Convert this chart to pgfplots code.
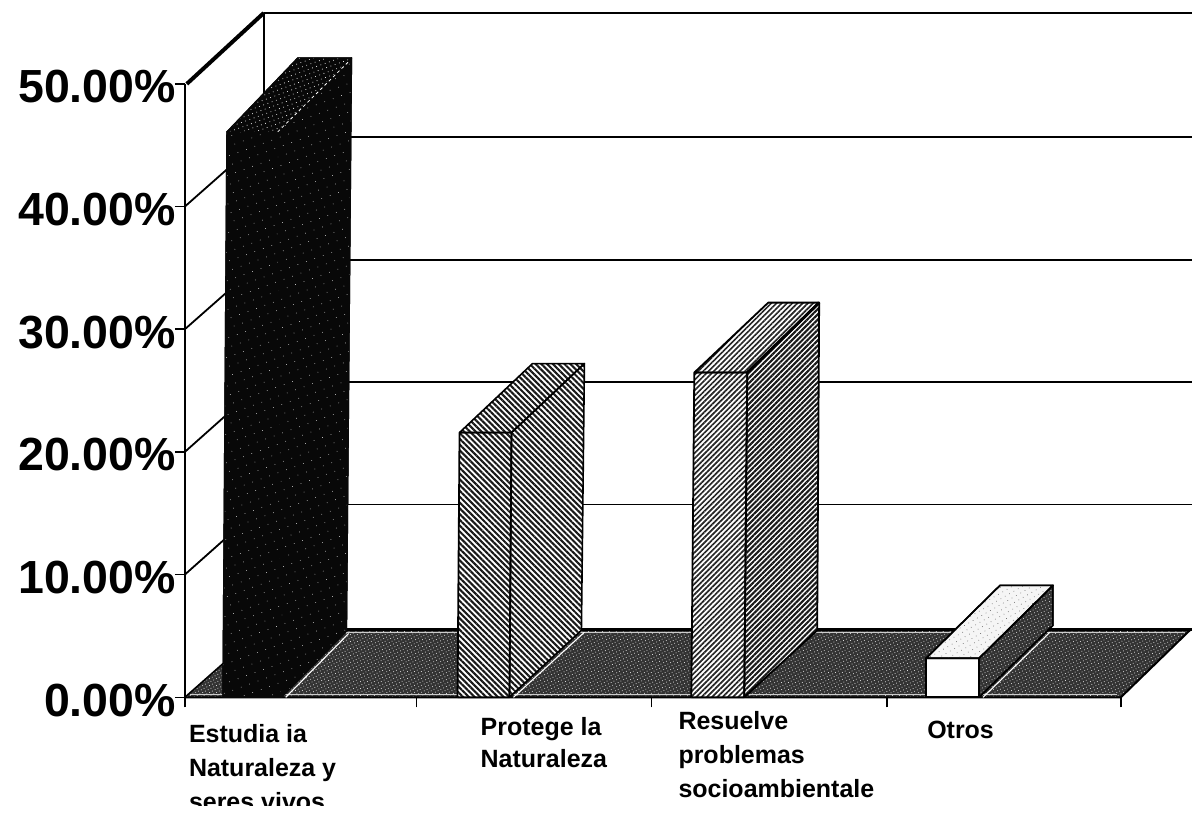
\documentclass[border=0pt]{standalone}
\usepackage{fontspec}
\setmainfont{Liberation Sans}
\usepackage{pgfplots}
\pgfplotsset{compat=1.18}
\usetikzlibrary{patterns,patterns.meta}
\definecolor{floorc}{gray}{0.2}
\definecolor{barone}{gray}{0.03}
\tikzset{
  floorfill/.style={fill=floorc,postaction={pattern={Dots[distance=3.1pt,radius=0.55pt,angle=27]},pattern color=white!85!black}},
  oneface/.style={fill=barone,postaction={pattern={Dots[distance=9pt,radius=0.4pt,angle=20]},pattern color=white}},
  onetop/.style={fill=barone,postaction={pattern={Dots[distance=4.5pt,radius=0.5pt,angle=20]},pattern color=white}},
  hatchA/.style={pattern={Lines[angle=-45,distance=4.1pt,line width=2.1pt]},pattern color=black!90},
  hatchB/.style={pattern={Lines[angle=45,distance=3.7pt,line width=1.7pt]},pattern color=black!85},
  hatchC/.style={pattern={Lines[angle=45,distance=3.7pt,line width=2.1pt]},pattern color=black!90},
  lbl/.style={anchor=base west,inner sep=0pt,font=\fontsize{25}{25}\selectfont\bfseries},
}
\begin{document}
\begin{tikzpicture}[line join=round]
\begin{axis}[
  name=ax, scale only axis, width=1008pt, height=614pt,
  xmin=185, xmax=1193, ymin=0, ymax=50, clip=false,
  axis lines=left, axis line style={-,line width=1.8pt},
  x axis line style={draw=none},
  tick align=outside, major tick length=10pt,
  tick style={black,line width=1.6pt},
  xtick={185,417,652,888,1122}, xticklabels={},
  ytick={0,10,20,30,40,50},
  yticklabel style={font=\fontsize{46.5}{46.5}\selectfont\bfseries,xshift=4.5pt,yshift=-3pt,
    /pgf/number format/assume math mode=true,
    /pgf/number format/fixed,/pgf/number format/zerofill,/pgf/number format/precision=2},
  yticklabel={\pgfmathprintnumber{\tick}\%},
  no markers,
]
% back wall
\addplot[black,line width=2pt] coordinates {(264,5.54)(264,55.78)(1193,55.78)};
\addplot[black,line width=1.8pt] coordinates {(264,45.68)(1193,45.68)};
\addplot[black,line width=1.8pt] coordinates {(264,35.67)(1193,35.67)};
\addplot[black,line width=1.8pt] coordinates {(264,25.73)(1193,25.73)};
\addplot[black,line width=1.8pt] coordinates {(264,15.72)(1193,15.72)};
% side wall
\addplot[black,line width=4pt] coordinates {(187,50)(264,55.78)};
\addplot[black,line width=1.8pt] coordinates {(185,40)(264,45.68)};
\addplot[black,line width=1.8pt] coordinates {(185,30)(264,35.67)};
\addplot[black,line width=1.8pt] coordinates {(185,20)(264,25.73)};
\addplot[black,line width=1.8pt] coordinates {(185,10)(264,15.72)};
% floor
\addplot[floorfill,draw=none] coordinates {(185,0)(1122,0)(1192,5.54)(262,5.54)(185,0)};
\addplot[black,line width=2.4pt] coordinates {(262,5.54)(1193,5.54)};
\addplot[white!80!black,line width=1pt] coordinates {(268,5.28)(1186,5.28)};
\addplot[black,line width=2pt] coordinates {(185,0)(1122,0)(1192,5.54)};
\addplot[white!80!black,line width=1pt] coordinates {(190,0.25)(1118,0.25)};
\addplot[black,line width=1.5pt] coordinates {(185,0)(262,5.54)};
% bar 1
\addplot[oneface,draw=barone,line width=1pt] coordinates {(223,0)(282,0)(278,46.09)(227,46.09)(223,0)};
\addplot[oneface,draw=barone,line width=1pt] coordinates {(282,0)(347,5.4)(352,52.12)(278,46.09)(282,0)};
\addplot[onetop,draw=barone,line width=1pt] coordinates {(227,46.09)(298,52.12)(352,52.12)(278,46.09)(227,46.09)};
\addplot[white,line width=0.8pt,dashed] coordinates {(278,46.09)(350,51.9)};
\addplot[white,line width=1.1pt] coordinates {(286,0)(349,5.2)};
% bar 2
\addplot[fill=white,draw=none] coordinates {(458,0)(509,0)(582,5.46)(585,27.2)(533,27.2)(460,21.58)(458,0)};
\addplot[hatchA,draw=black,line width=1.8pt] coordinates {(458,0)(510,0)(512,21.58)(460,21.58)(458,0)};
\addplot[hatchA,draw=black,line width=1.6pt] coordinates {(510,0)(582,5.46)(585,27.2)(512,21.58)(510,0)};
\addplot[hatchA,draw=black,line width=1.6pt] coordinates {(460,21.58)(533,27.2)(585,27.2)(512,21.58)(460,21.58)};
\addplot[white,line width=1.1pt] coordinates {(514,0)(585,5.3)};
% bar 3
\addplot[fill=white,draw=none] coordinates {(692,0)(745,0)(818,5.46)(820,32.17)(769,32.17)(695,26.47)(692,0)};
\addplot[hatchB,draw=black,line width=1.8pt] coordinates {(692,0)(745,0)(748,26.47)(695,26.47)(692,0)};
\addplot[hatchC,draw=black,line width=1.8pt] coordinates {(745,0)(818,5.46)(820,32.17)(748,26.47)(745,0)};
\addplot[hatchB,draw=black,line width=1.8pt] coordinates {(695,26.47)(769,32.17)(820,32.17)(748,26.47)(695,26.47)};
\addplot[black,line width=3pt] coordinates {(748,26.47)(820,32.17)};
% bar 4
\addplot[fill=white,draw=black,line width=1.8pt] coordinates {(927,0)(980,0)(980,3.18)(927,3.18)(927,0)};
\addplot[floorfill,draw=black,line width=1.5pt] coordinates {(980,0)(1054,5.86)(1054,9.12)(980,3.18)(980,0)};
\addplot[fill=gray!8,draw=black,line width=1.6pt,postaction={pattern={Dots[distance=5pt,radius=0.5pt,angle=30]},pattern color=black!55}] coordinates {(927,3.18)(1001,9.12)(1054,9.12)(980,3.18)(927,3.18)};
\addplot[white,line width=1.1pt] coordinates {(984,0)(1051,5.3)};
% category labels
\node[lbl] at (axis cs:189,-3.66) {Estudia ia};
\node[lbl] at (axis cs:189,-6.43) {Naturaleza y};
\node[lbl] at (axis cs:189,-9.2) {seres vivos};
\node[lbl] at (axis cs:481,-3.09) {Protege la};
\node[lbl] at (axis cs:481,-5.70) {Naturaleza};
\node[lbl] at (axis cs:679,-2.65) {Resuelve};
\node[lbl] at (axis cs:679,-5.37) {problemas};
\node[lbl] at (axis cs:679,-8.14) {socioambientale};
\node[lbl] at (axis cs:928,-3.34) {Otros};
\fill[white] (axis cs:100,-8.876) rectangle (axis cs:600,-9.44);
\end{axis}
\path[use as bounding box] (ax.south west) ++(-185pt,-116pt) rectangle ++(1193pt,814pt);
\end{tikzpicture}
\end{document}
